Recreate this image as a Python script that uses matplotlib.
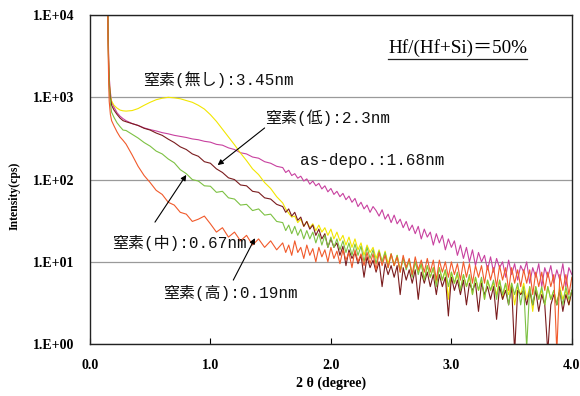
import math

import matplotlib
matplotlib.use("Agg")
import matplotlib.pyplot as plt
from matplotlib.lines import Line2D
from matplotlib.ticker import FixedLocator, FuncFormatter, NullLocator

# 2θ sampling (degree): steep head, coarse body, fine noisy tail
theta_head = [0.147, 0.15, 0.155, 0.16, 0.17, 0.18, 0.20, 0.225, 0.25, 0.275]
theta_body = [0.30, 0.35, 0.40, 0.45, 0.50, 0.55, 0.60, 0.65, 0.70, 0.75,
              0.80, 0.85, 0.90, 0.95, 1.00, 1.05, 1.10, 1.15, 1.20, 1.25,
              1.30, 1.35, 1.40, 1.45, 1.50, 1.55]
theta_tail = [1.600, 1.625, 1.650, 1.675, 1.700, 1.725, 1.750, 1.775, 1.800, 1.825,
              1.850, 1.875, 1.900, 1.925, 1.950, 1.975, 2.000, 2.025, 2.050, 2.075,
              2.100, 2.125, 2.150, 2.175, 2.200, 2.225, 2.250, 2.275, 2.300, 2.325,
              2.350, 2.375, 2.400, 2.425, 2.450, 2.475, 2.500, 2.525, 2.550, 2.575,
              2.600, 2.625, 2.650, 2.675, 2.700, 2.725, 2.750, 2.775, 2.800, 2.825,
              2.850, 2.875, 2.900, 2.925, 2.950, 2.975, 3.000, 3.025, 3.050, 3.075,
              3.100, 3.125, 3.150, 3.175, 3.200, 3.225, 3.250, 3.275, 3.300, 3.325,
              3.350, 3.375, 3.400, 3.425, 3.450, 3.475, 3.500, 3.525, 3.550, 3.575,
              3.600, 3.625, 3.650, 3.675, 3.700, 3.725, 3.750, 3.775, 3.800, 3.825,
              3.850, 3.875, 3.900, 3.925, 3.950, 3.975, 4.000]
two_theta = theta_head + theta_body + theta_tail

# intensity (cps)
asdepo = [30000, 9000, 3500, 1800, 1150, 880, 760, 650, 590, 550,
          520, 480, 455, 425, 405, 390, 372, 360, 345, 335,
          325, 312, 305, 292, 285, 268, 262, 243, 232, 212,
          205, 188, 182, 165, 158, 145,
          140, 122, 130, 112, 118, 104, 110, 96, 102, 88,
          96, 84, 90, 77, 84, 71, 78, 66, 72, 62,
          68, 57, 63, 53, 59, 47, 53, 44, 49, 40,
          47, 42, 36, 43, 33, 38, 30, 37, 29, 33,
          26, 31, 24, 28, 22, 27, 19, 25, 20, 23,
          16, 22, 17, 21, 14, 19, 15, 18, 12, 16,
          11, 15, 10, 14, 9, 13, 10, 12, 8, 11.5,
          7.5, 11, 8.5, 10, 6.5, 10.5, 7, 9.5, 6, 9,
          7.5, 10, 5.5, 8.5, 6.5, 9.5, 5, 8.5, 6.5, 9,
          5.5, 8, 6, 9.5, 5, 8.5, 7]

nitrogen_none = [30000, 8000, 3000, 1600, 1050, 900, 800, 740, 700, 685,
                 680, 690, 730, 800, 870, 935, 975, 1000, 985, 960,
                 915, 870, 800, 720, 615, 510, 410, 330, 265, 210,
                 170, 135, 115, 92, 78, 62,
                 52, 44, 39, 35, 36, 30, 33, 27, 31, 26,
                 29, 24, 28, 23, 26, 21, 25, 19, 23, 18,
                 21, 16, 20, 15, 19, 14, 17, 12, 16, 13,
                 15, 11, 14, 10, 13.5, 9.5, 12.5, 9, 12, 8,
                 11, 8.5, 10.5, 7, 10, 7.5, 9.5, 6, 9, 6.5,
                 8.5, 5.5, 8.5, 6, 8, 3.5, 7.5, 5.5, 7, 4.5,
                 7, 5, 6.5, 4, 6.5, 4.5, 6, 3.5, 6, 4.5,
                 5.5, 4, 6, 3.5, 5.5, 4, 5.5, 3, 5, 4,
                 5.5, 3.5, 5, 2.5, 5, 3.5, 4.5, 3, 5, 3.5,
                 4.5, 3, 5, 3.5, 4.5, 3, 4.5]

nitrogen_low = [30000, 7000, 2800, 1500, 1000, 800, 700, 620, 560, 520,
                505, 480, 455, 420, 400, 368, 345, 310, 282, 250,
                232, 205, 192, 165, 158, 135, 122, 105, 100, 86,
                84, 72, 70, 60, 58, 50,
                47, 40, 44, 36, 40, 32, 35, 27, 31, 25,
                28, 21, 25, 19, 22, 15, 19, 15, 17, 12,
                15.5, 9, 14, 11, 13, 9.5, 12, 6.5, 11.5, 8.5,
                10.5, 7.5, 10, 5, 9.5, 7, 9, 6.5, 9, 4,
                8.5, 6, 8, 5.5, 8, 3.5, 7.5, 5.5, 7.5, 5,
                7, 4, 7, 5, 6.5, 2.2, 6.5, 4.5, 6, 4,
                6, 3, 5.5, 4.5, 5.5, 2.5, 5.5, 4, 5, 3.5,
                5, 2, 5, 3.5, 4.5, 3, 5, 0.8, 4.5, 4,
                4.5, 3, 4.5, 3, 4.5, 2.5, 4, 3, 0.8, 3,
                4, 3, 4.5, 2.5, 4, 3, 4.5]

nitrogen_mid = [30000, 6000, 2400, 1300, 850, 660, 570, 490, 440, 400,
                395, 355, 320, 282, 255, 222, 205, 178, 160, 132,
                118, 100, 96, 84, 83, 70, 72, 60, 58, 49,
                50, 42, 44, 37, 38, 31,
                30, 24, 28, 22, 27, 21, 25, 19, 24, 19,
                23, 17, 22, 16, 21, 15, 20, 15, 19, 14,
                18, 13, 17, 12, 16.5, 12, 15.5, 10, 15, 11,
                14, 9.5, 13.5, 10, 13, 8.5, 12.5, 9, 12, 7.5,
                11, 8, 10.5, 6.5, 10, 7, 9.5, 6, 9, 6.5,
                8.5, 5, 8.5, 6, 8, 5, 7.5, 5.5, 7.5, 4.5,
                7, 5, 7, 4, 6.5, 4.5, 6.5, 3.5, 6, 4.5,
                6, 3.5, 6, 4, 5.5, 3, 5.5, 4, 5.5, 3,
                5, 0.9, 5, 3, 5, 3.5, 5, 3, 5, 3.5,
                4.5, 3, 4.5, 3, 5, 3.5, 4.5]

nitrogen_high = [30000, 5000, 1800, 900, 620, 520, 450, 380, 330, 300,
                 270, 200, 145, 112, 92, 74, 66, 53, 49, 40,
                 38, 31, 33, 36, 29, 23, 26, 20, 23, 18,
                 21, 16, 19, 15, 18, 14,
                 17, 13, 16, 12, 18, 13, 15, 11, 16, 12,
                 14.5, 10, 15, 11.5, 14, 10, 15, 11, 13.5, 9.5,
                 14, 10.5, 13, 8.5, 14, 10, 12.5, 9, 13, 9.5,
                 12.5, 8, 13, 9, 12, 8.5, 12.5, 9, 11.5, 7.5,
                 12, 8.5, 11, 7, 11.5, 8, 10.5, 7.5, 11, 7.5,
                 10.5, 6, 10.5, 7.5, 10, 6.5, 10, 7, 9.5, 6,
                 10, 6.5, 9.5, 5.5, 9, 6.5, 9, 5.5, 9, 6,
                 8.5, 5, 9, 6, 8.5, 4.5, 8.5, 5.5, 8, 5,
                 8, 5.5, 8, 4, 7.5, 5, 7.5, 4.5, 7.5, 5,
                 7, 0.8, 7, 4.5, 7, 4, 6.5]

series = [
    (asdepo, "#C8419F"),
    (nitrogen_none, "#F2E600"),
    (nitrogen_low, "#7A1C1E"),
    (nitrogen_mid, "#7DC143"),
    (nitrogen_high, "#F15A2B"),
]

SERIF = ["Liberation Serif", "DejaVu Serif"]
LABEL_FONT = ["Liberation Mono", "Noto Sans CJK JP", "DejaVu Sans"]

fig = plt.figure(figsize=(5.8, 3.96), dpi=100)
fig.patch.set_facecolor("white")
ax = fig.add_axes([0.155, 0.131, 0.831, 0.831])

for vals, color in series:
    ax.plot(two_theta, vals, color=color, lw=0.8)

ax.set_yscale("log")
ax.set_ylim(1, 1e4)
ax.set_xlim(0, 4.0)
ax.yaxis.set_major_locator(FixedLocator([1, 10, 100, 1000, 10000]))
ax.yaxis.set_minor_locator(NullLocator())
ax.yaxis.set_major_formatter(FuncFormatter(lambda v, p: f"1.E+{int(round(math.log10(v))):02d}"))
ax.set_xticks([0, 1, 2, 3, 4])
ax.xaxis.set_major_formatter(FuncFormatter(lambda v, p: f"{v:.1f}"))
ax.yaxis.grid(True, color="#9a9a9a", lw=0.9)
ax.set_axisbelow(True)
ax.tick_params(axis="x", direction="in", length=4, width=0.8, pad=11)
ax.tick_params(axis="y", length=0, pad=11)
for lab in ax.get_xticklabels() + ax.get_yticklabels():
    lab.set_fontfamily(SERIF)
    lab.set_fontweight("bold")
    lab.set_fontsize(10)
for sp in ax.spines.values():
    sp.set_color("#222222")
    sp.set_linewidth(1.0)

fig.text(331 / 580, 1 - 383 / 396, "2 θ (degree)", ha="center", va="center",
         family=SERIF, weight="bold", fontsize=10)
fig.text(15 / 580, 1 - 196 / 396, "Intensity(cps)", ha="center", va="center",
         rotation=90, family=SERIF, weight="bold", fontsize=8.5)

lbl = dict(family=LABEL_FONT, fontsize=11.5, va="center", ha="left", color="#111111")
ax.text(0.44, 1660, "窒素(無し):3.45nm", **lbl)
ax.text(1.45, 560, "窒素(低):2.3nm", **lbl)
ax.text(1.74, 173, "as-depo.:1.68nm", **lbl)
ax.text(0.18, 16.9, "窒素(中):0.67nm", **lbl)
ax.text(0.61, 4.2, "窒素(高):0.19nm", **lbl)

arrow = dict(arrowstyle="-|>", color="black", lw=0.8, mutation_scale=8,
             shrinkA=0, shrinkB=0)
ax.annotate("", xy=(1.06, 150), xytext=(1.45, 424), arrowprops=arrow)
ax.annotate("", xy=(0.80, 114), xytext=(0.54, 30.4), arrowprops=arrow)
ax.annotate("", xy=(1.37, 19.4), xytext=(1.19, 6.0), arrowprops=arrow)

hf = fig.text(388 / 580, 1 - 48 / 396, "Hf/(Hf+Si)＝50%", ha="left", va="center",
              family=["Liberation Serif", "Noto Sans CJK JP"], fontsize=13.8)
fig.canvas.draw()
bb = hf.get_window_extent().transformed(fig.transFigure.inverted())
fig.add_artist(Line2D([bb.x0, bb.x1], [bb.y0 - 0.004, bb.y0 - 0.004],
                      transform=fig.transFigure, color="#222222", lw=0.9))

fig.savefig("out.png", dpi=100, facecolor="white")
